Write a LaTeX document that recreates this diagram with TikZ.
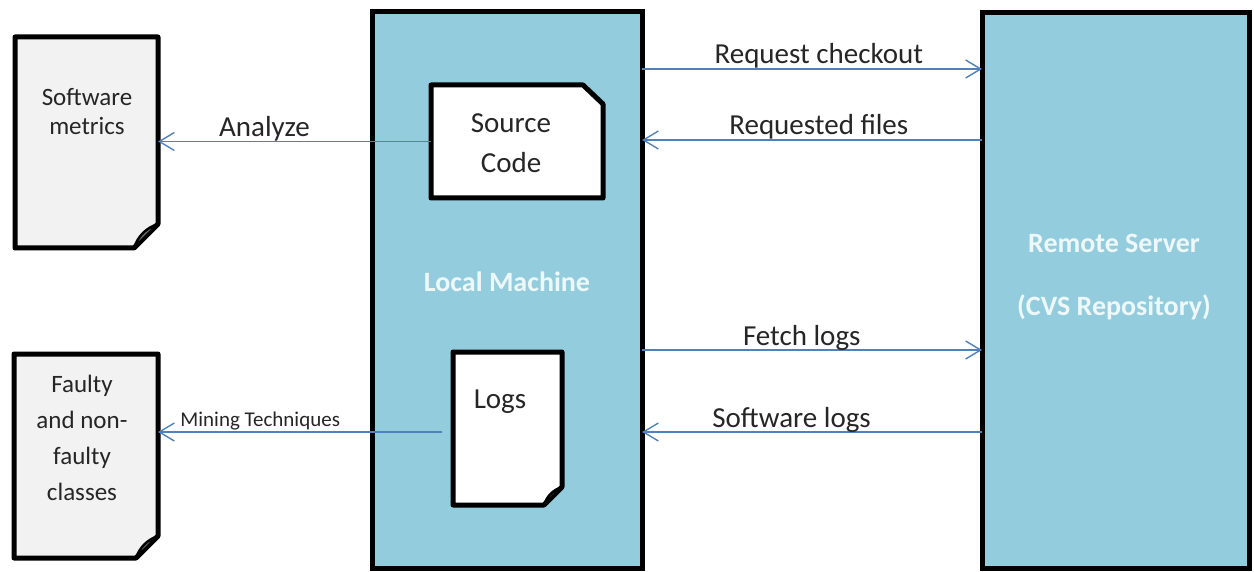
\documentclass[tikz,border=0pt]{standalone}
\usepackage{fontspec}
\setmainfont{Carlito}
\usetikzlibrary{arrows.meta}
\definecolor{boxblue}{HTML}{93CDDD}
\definecolor{docgray}{HTML}{F2F2F2}
\definecolor{arrowblue}{HTML}{4F81BD}
\definecolor{txt}{HTML}{262626}
\definecolor{boxtxt}{HTML}{EEF7FA}
\begin{document}
\begin{tikzpicture}[x=1pt,y=-1pt,
  frame/.style={inner sep=0pt, outer sep=0pt, draw=none},
  bigbox/.style={draw=black, fill=boxblue, line width=5pt, inner sep=0pt, outer sep=0pt},
  docline/.style={draw=black, line width=5pt, line join=round},
  curl/.style={draw=black, line width=2.5pt, fill=black!55, line join=round},
  flow/.style={draw=arrowblue, line width=1.4pt, -{Straight Barb[length=15pt,width=18pt]}},
  lbl/.style={font=\fontsize{29}{34}\selectfont, text=txt, anchor=base, inner sep=0pt, yshift=5pt},
  lblsmall/.style={font=\fontsize{21}{25}\selectfont, text=txt, anchor=base, inner sep=0pt, yshift=6pt},
  doctext/.style={align=center, text=txt, inner sep=0pt},
  boxtext/.style={align=center, text=boxtxt, font=\bfseries\fontsize{28}{63}\selectfont, inner sep=0pt}
]
\useasboundingbox (0,0) rectangle (1254,572);

% big boxes
\node[bigbox, minimum width=270pt, minimum height=556pt] (local) at (507,290) {};
\node[bigbox, minimum width=267pt, minimum height=555pt] (remote) at (1115.5,290.5) {};
\node[boxtext] (lmtext) at (507,282) {Local Machine};
\node[boxtext] (rstext) at (1114,277) {Remote Server\\(CVS Repository)};

% source code
\node[frame, minimum width=172pt, minimum height=113pt] (sc) at (517,141.5) {};
\draw[docline, fill=white] (sc.north west) -- ([xshift=-20pt]sc.north east) -- ([yshift=-19pt]sc.north east) -- (sc.south east) -- (sc.south west) -- cycle;
\node[doctext, font=\fontsize{29}{40}\selectfont] (sctext) at (511,143) {Source\\Code};

% logs
\node[frame, minimum width=109pt, minimum height=153pt] (logs) at (507.5,428.5) {};
\draw[docline, fill=white] (logs.north west) -- (logs.north east) -- ([yshift=18pt]logs.south east) -- ([xshift=-18pt]logs.south east) -- (logs.south west) -- cycle;
\draw[curl] ([yshift=18pt]logs.south east) -- ([xshift=-18pt]logs.south east) .. controls ([xshift=-15pt,yshift=9pt]logs.south east) and ([xshift=-9pt,yshift=15pt]logs.south east) .. cycle;
\node[doctext, font=\fontsize{29}{34}\selectfont] (logstext) at (500,402) {Logs};

% software metrics
\node[frame, minimum width=143pt, minimum height=211pt] (sm) at (86.5,142.5) {};
\draw[docline, fill=docgray] (sm.north west) -- (sm.north east) -- ([yshift=24pt]sm.south east) -- ([xshift=-24pt]sm.south east) -- (sm.south west) -- cycle;
\draw[curl] ([yshift=24pt]sm.south east) -- ([xshift=-24pt]sm.south east) .. controls ([xshift=-20pt,yshift=12pt]sm.south east) and ([xshift=-12pt,yshift=20pt]sm.south east) .. cycle;
\node[doctext, font=\fontsize{25}{29}\selectfont] (smtext) at (87,112) {Software\\metrics};

% faulty classes
\node[frame, minimum width=144pt, minimum height=204pt] (fc) at (86,456) {};
\draw[docline, fill=docgray] (fc.north west) -- (fc.north east) -- ([yshift=22pt]fc.south east) -- ([xshift=-22pt]fc.south east) -- (fc.south west) -- cycle;
\draw[curl] ([yshift=22pt]fc.south east) -- ([xshift=-22pt]fc.south east) .. controls ([xshift=-18pt,yshift=11pt]fc.south east) and ([xshift=-11pt,yshift=18pt]fc.south east) .. cycle;
\node[doctext, font=\fontsize{25}{36}\selectfont] (fctext) at (82,438) {Faulty\\and non-\\faulty\\classes};

% connectors
\coordinate (y1) at (0,69);
\coordinate (y2) at (0,140);
\coordinate (y3) at (0,350);
\coordinate (y4) at (0,432);
\coordinate (mstart) at (442,432);

\draw[flow] (sc.west) -- (sc.west -| sm.east) node[lbl, pos=0.61] (lanalyze) {Analyze};
\draw[flow] (mstart) -- (mstart -| fc.east) node[lblsmall, pos=0.64] (lmining) {Mining Techniques};
\draw[flow] (local.east |- y1) -- (remote.west |- y1) node[lbl, pos=0.52] (lreq) {Request checkout};
\draw[flow] (remote.west |- y2) -- (local.east |- y2) node[lbl, pos=0.48] (lfiles) {Requested files};
\draw[flow] (local.east |- y3) -- (remote.west |- y3) node[lbl, pos=0.47] (lfetch) {Fetch logs};
\draw[flow] (remote.west |- y4) -- (local.east |- y4) node[lbl, pos=0.56] (lsoft) {Software logs};
\end{tikzpicture}
\end{document}
